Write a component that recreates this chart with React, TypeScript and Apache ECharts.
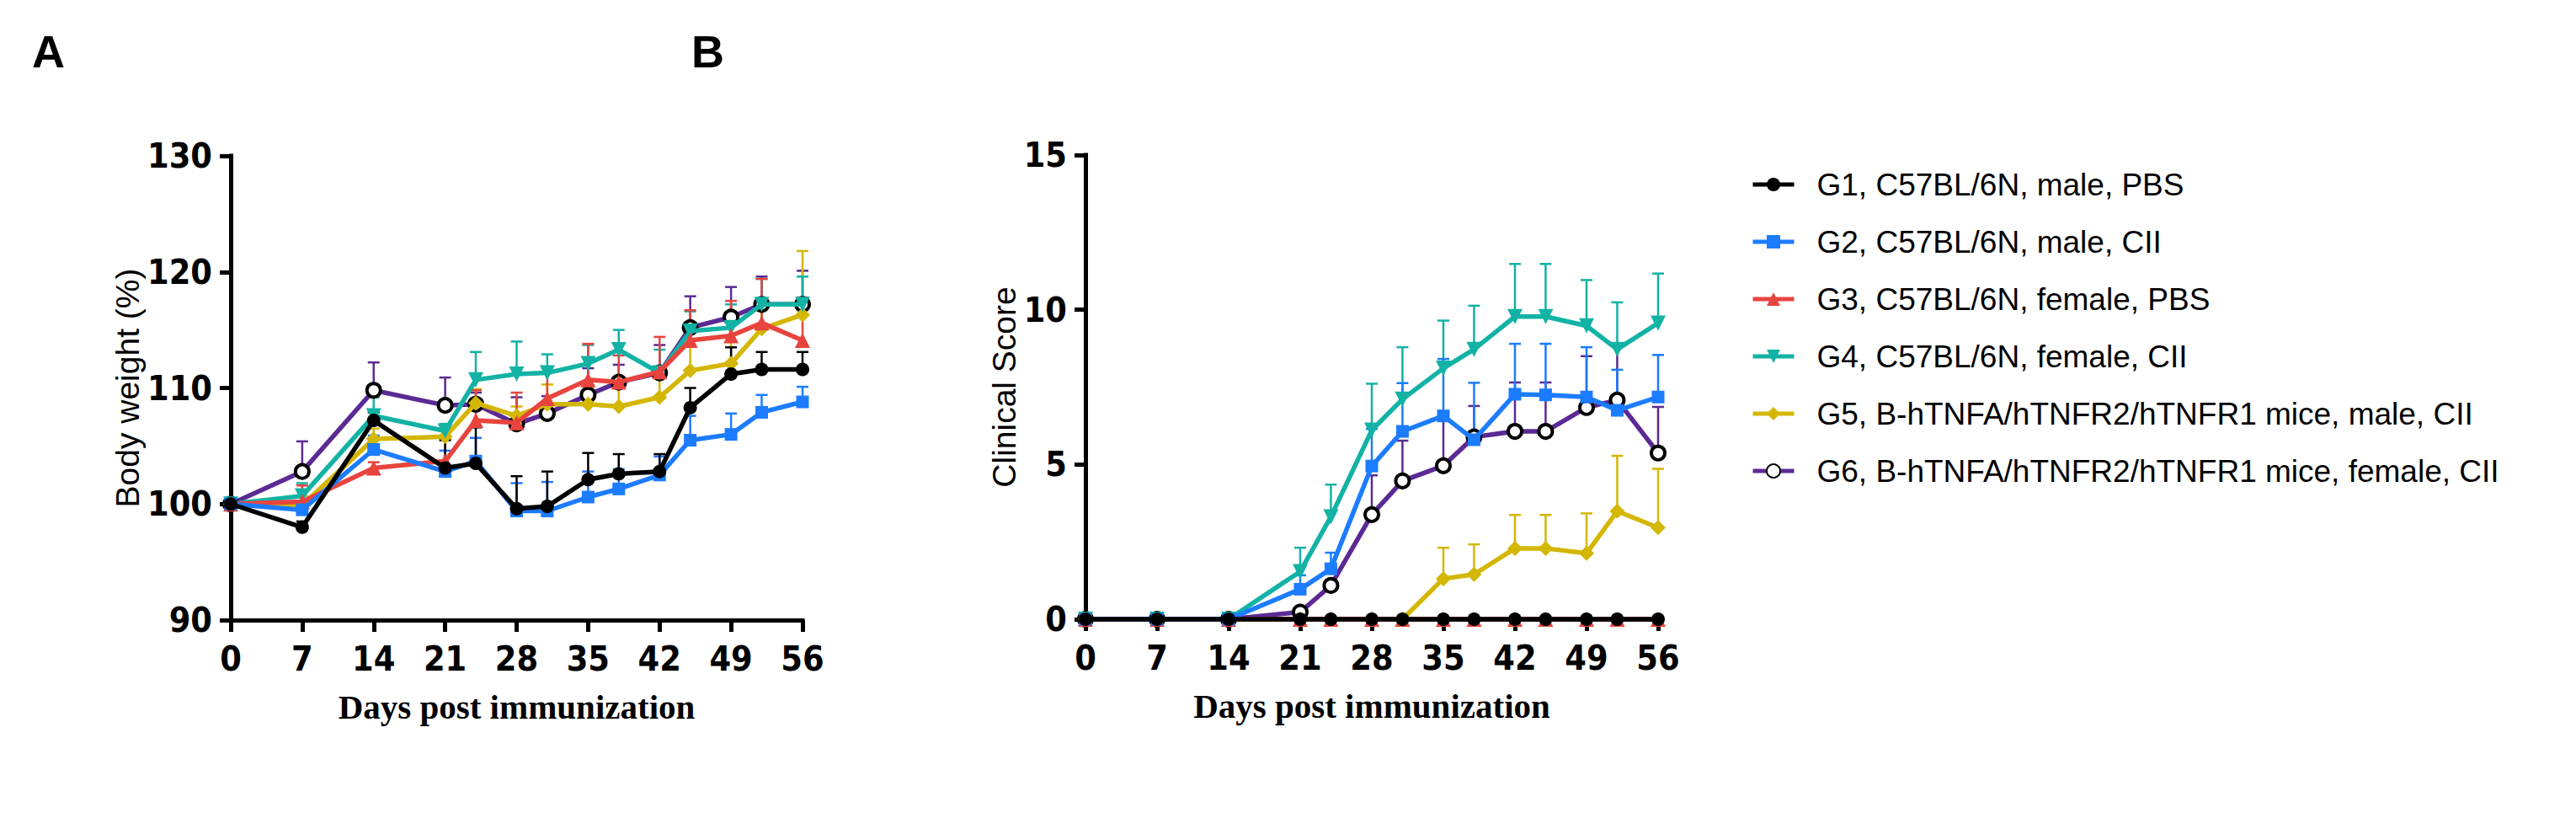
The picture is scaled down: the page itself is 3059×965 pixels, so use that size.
import React, { useEffect, useRef } from "react";
import * as echarts from "echarts";

const days = [0, 7, 14, 21, 24, 28, 31, 35, 38, 42, 45, 49, 52, 56];
const xTicks = [0, 7, 14, 21, 28, 35, 42, 49, 56];

const groupNames = [
  "G1, C57BL/6N, male, PBS",
  "G2, C57BL/6N, male, CII",
  "G3, C57BL/6N, female, PBS",
  "G4, C57BL/6N, female, CII",
  "G5, B-hTNFA/hTNFR2/hTNFR1 mice, male, CII",
  "G6, B-hTNFA/hTNFR2/hTNFR1 mice, female, CII",
];

// Panel A: body weight (%)
const weightG1 = [100, 98.0, 107.2, 103.1, 103.5, 99.6, 99.8, 102.1, 102.6, 102.8, 108.3, 111.2, 111.6, 111.6];
const weightG2 = [100, 99.5, 104.7, 102.8, 103.7, 99.4, 99.4, 100.6, 101.3, 102.5, 105.5, 106.0, 107.9, 108.8];
const weightG3 = [100, 100.2, 103.1, 103.7, 107.2, 107.0, 109.1, 110.7, 110.5, 111.4, 114.1, 114.5, 115.6, 114.1];
const weightG4 = [100, 100.7, 107.6, 106.3, 110.7, 111.2, 111.3, 112.1, 113.3, 111.3, 114.9, 115.2, 117.2, 117.2];
const weightG5 = [100, 99.9, 105.6, 105.8, 108.7, 107.6, 108.6, 108.6, 108.4, 109.2, 111.5, 112.1, 115.1, 116.3];
const weightG6 = [100, 102.8, 109.8, 108.5, 108.6, 106.9, 107.8, 109.4, 110.5, 111.3, 115.2, 116.1, 117.2, 117.2];

const weightErrG1 = [0, 0.5, 0.7, 2.4, 3.1, 2.8, 3.0, 2.3, 1.7, 1.5, 1.7, 2.3, 1.5, 1.5];
const weightErrG2 = [0, 0.5, 1.2, 1.8, 2.0, 2.4, 2.5, 2.2, 1.7, 1.6, 2.1, 1.8, 1.5, 1.3];
const weightErrG3 = [0, 1.4, 0.5, 2.0, 2.6, 2.6, 2.6, 3.1, 2.3, 3.0, 2.6, 3.0, 3.8, 3.7];
const weightErrG4 = [0, 1.1, 1.6, 0.6, 2.4, 2.8, 1.6, 1.6, 1.7, 2.0, 1.7, 2.0, 2.2, 2.4];
const weightErrG5 = [0, 0.8, 0.9, 0.8, 1.2, 0.8, 1.7, 1.5, 1.8, 1.8, 2.2, 2.0, 1.6, 5.5];
const weightErrG6 = [0, 2.6, 2.4, 2.4, 1.0, 2.3, 1.5, 2.3, 1.5, 2.4, 2.7, 2.6, 2.4, 2.9];

// Panel B: clinical score
const scoreG1 = [0, 0, 0, 0, 0, 0, 0, 0, 0, 0, 0, 0, 0, 0];
const scoreG2 = [0, 0, 0, 0.97, 1.63, 4.95, 6.07, 6.57, 5.8, 7.27, 7.25, 7.18, 6.75, 7.18];
const scoreG3 = [0, 0, 0, 0, 0, 0, 0, 0, 0, 0, 0, 0, 0, 0];
const scoreG4 = [0, 0, 0, 1.54, 3.31, 6.11, 7.11, 8.11, 8.72, 9.78, 9.78, 9.48, 8.72, 9.57];
const scoreG5 = [0, 0, 0, 0, 0, 0, 0, 1.31, 1.45, 2.29, 2.29, 2.13, 3.49, 2.96];
const scoreG6 = [0, 0, 0, 0.23, 1.09, 3.38, 4.47, 4.96, 5.89, 6.07, 6.07, 6.84, 7.08, 5.37];

const scoreErrG1 = [0, 0, 0, 0, 0, 0, 0, 0, 0, 0, 0, 0, 0, 0];
const scoreErrG2 = [0, 0, 0, 0.45, 0.52, 1.2, 1.56, 1.84, 1.84, 1.63, 1.65, 1.61, 1.31, 1.36];
const scoreErrG3 = [0, 0, 0, 0, 0, 0, 0, 0, 0, 0, 0, 0, 0, 0];
const scoreErrG4 = [0, 0, 0, 0.77, 1.04, 1.5, 1.68, 1.54, 1.41, 1.7, 1.7, 1.48, 1.52, 1.6];
const scoreErrG5 = [0, 0, 0, 0, 0, 0, 0, 1.0, 0.97, 1.08, 1.08, 1.29, 1.79, 1.9];
const scoreErrG6 = [0, 0, 0, 0, 0, 1.27, 1.3, 1.5, 1.0, 1.58, 1.58, 1.66, 1.84, 1.49];

const colors = ["#000000", "#1c7cff", "#e8443e", "#12b2a5", "#d4b705", "#5b2a94"];

const tickFont = "'Liberation Sans Narrow', 'Arial Narrow', 'DejaVu Sans Condensed', 'Liberation Sans', Arial, sans-serif";
const sansFont = "'Liberation Sans', Arial, sans-serif";
const serifFont = "'Liberation Serif', 'Times New Roman', serif";

type Style = {
  symbol: string;
  size: number;
  rotate?: number;
  fill: string;
  border?: string;
  borderWidth?: number;
  z: number;
};

const styles: Style[] = [
  { symbol: "circle", size: 16, fill: colors[0], z: 17 },
  { symbol: "rect", size: 15, fill: colors[1], z: 16 },
  { symbol: "triangle", size: 18, fill: colors[2], z: 15 },
  { symbol: "triangle", size: 18, rotate: 180, fill: colors[3], z: 14 },
  { symbol: "diamond", size: 18, fill: colors[4], z: 13 },
  { symbol: "circle", size: 16, fill: "#ffffff", border: "#000000", borderWidth: 4, z: 12 },
];

function lineSeries(gi: number, axisIdx: number, vals: number[]) {
  const s = styles[gi];
  return {
    type: "line",
    name: groupNames[gi],
    xAxisIndex: axisIdx,
    yAxisIndex: axisIdx,
    data: days.map((d, i) => [d, vals[i]]),
    symbol: s.symbol,
    symbolSize: s.size,
    symbolRotate: s.rotate || 0,
    showAllSymbol: true,
    lineStyle: { color: colors[gi], width: 5.5 },
    itemStyle: {
      color: s.fill,
      borderColor: s.border || s.fill,
      borderWidth: s.borderWidth || 0,
      opacity: 1,
    },
    emphasis: { disabled: true },
    z: s.z,
    clip: false,
  };
}

function errSeries(gi: number, axisIdx: number, vals: number[], errs: number[]) {
  const color = colors[gi];
  return {
    type: "custom",
    name: "err-" + gi + "-" + axisIdx,
    xAxisIndex: axisIdx,
    yAxisIndex: axisIdx,
    data: days.map((d, i) => [d, vals[i], errs[i]]),
    encode: { x: 0, y: 1 },
    z: styles[gi].z - 8,
    clip: false,
    silent: true,
    renderItem: (_params: any, api: any) => {
      const x = api.value(0);
      const v = api.value(1);
      const e = api.value(2);
      if (!e) return null;
      const p0 = api.coord([x, v]);
      const p1 = api.coord([x, v + e]);
      return {
        type: "group",
        children: [
          {
            type: "line",
            shape: { x1: p0[0], y1: p0[1], x2: p1[0], y2: p1[1] },
            style: { stroke: color, lineWidth: 2.5 },
          },
          {
            type: "line",
            shape: { x1: p1[0] - 7, y1: p1[1], x2: p1[0] + 7, y2: p1[1] },
            style: { stroke: color, lineWidth: 2.5 },
          },
        ],
      };
    },
  };
}

function xAxisDef(gridIndex: number) {
  return {
    type: "value",
    gridIndex,
    min: 0,
    max: 56,
    interval: 7,
    axisLine: { onZero: false, lineStyle: { color: "#000", width: 5, cap: "square" } },
    axisTick: { show: true, length: 14, lineStyle: { color: "#000", width: 5 } },
    axisLabel: {
      color: "#000",
      fontSize: 41,
      fontWeight: "bold",
      fontFamily: tickFont,
      margin: 25,
      formatter: (v: number) => (xTicks.indexOf(v) >= 0 ? String(v) : ""),
    },
    splitLine: { show: false },
    name: "Days post immunization",
    nameLocation: "middle",
    nameGap: 82,
    nameTextStyle: { color: "#000", fontSize: 41, fontWeight: "bold", fontFamily: serifFont },
  };
}

function yAxisDef(gridIndex: number, min: number, max: number, interval: number, name: string, nameGap: number) {
  return {
    type: "value",
    gridIndex,
    min,
    max,
    interval,
    axisLine: { show: true, onZero: false, lineStyle: { color: "#000", width: 5, cap: "square" } },
    axisTick: { show: true, length: 13, lineStyle: { color: "#000", width: 5 } },
    axisLabel: {
      color: "#000",
      fontSize: 41,
      fontWeight: "bold",
      fontFamily: tickFont,
      margin: 22,
    },
    splitLine: { show: false },
    name,
    nameLocation: "middle",
    nameRotate: 90,
    nameGap,
    nameTextStyle: { color: "#000", fontSize: 39, fontFamily: sansFont },
  };
}

export default function App() {
  const ref = useRef<HTMLDivElement>(null);
  useEffect(() => {
    if (!ref.current) return;
    const chart = echarts.init(ref.current, undefined, { renderer: "svg" });
    const weights = [weightG1, weightG2, weightG3, weightG4, weightG5, weightG6];
    const weightErrs = [weightErrG1, weightErrG2, weightErrG3, weightErrG4, weightErrG5, weightErrG6];
    const scores = [scoreG1, scoreG2, scoreG3, scoreG4, scoreG5, scoreG6];
    const scoreErrs = [scoreErrG1, scoreErrG2, scoreErrG3, scoreErrG4, scoreErrG5, scoreErrG6];

    const series: any[] = [];
    for (let gi = 0; gi < 6; gi++) {
      series.push(lineSeries(gi, 0, weights[gi]));
      series.push(errSeries(gi, 0, weights[gi], weightErrs[gi]));
      series.push(lineSeries(gi, 1, scores[gi]));
      series.push(errSeries(gi, 1, scores[gi], scoreErrs[gi]));
    }

    chart.setOption({
      animation: false,
      backgroundColor: "#ffffff",
      grid: [
        { left: 274, top: 185, width: 679, height: 551 },
        { left: 1289, top: 184, width: 680, height: 551 },
      ],
      xAxis: [xAxisDef(0), xAxisDef(1)],
      yAxis: [
        yAxisDef(0, 90, 130, 10, "Body weight (%)", 96),
        yAxisDef(1, 0, 15, 5, "Clinical Score", 72),
      ],
      legend: {
        data: groupNames,
        orient: "vertical",
        left: 2074,
        top: 194,
        itemWidth: 49,
        itemHeight: 20,
        itemGap: 28,
        selectedMode: false,
        lineStyle: { width: 5 },
        textStyle: {
          color: "#000",
          fontSize: 37,
          fontFamily: sansFont,
          lineHeight: 40,
          padding: [0, 0, 0, 22],
        },
      },
      graphic: [
        {
          type: "text",
          left: 38,
          top: 34,
          style: { text: "A", fontSize: 54, fontWeight: "bold", fontFamily: sansFont, fill: "#000" },
        },
        {
          type: "text",
          left: 821,
          top: 34,
          style: { text: "B", fontSize: 54, fontWeight: "bold", fontFamily: sansFont, fill: "#000" },
        },
      ],
      series,
    });
    return () => chart.dispose();
  }, []);
  return (
    <div
      ref={ref}
      style={{ position: "fixed", left: 0, top: 0, width: "3059px", height: "965px", background: "#fff" }}
    />
  );
}
